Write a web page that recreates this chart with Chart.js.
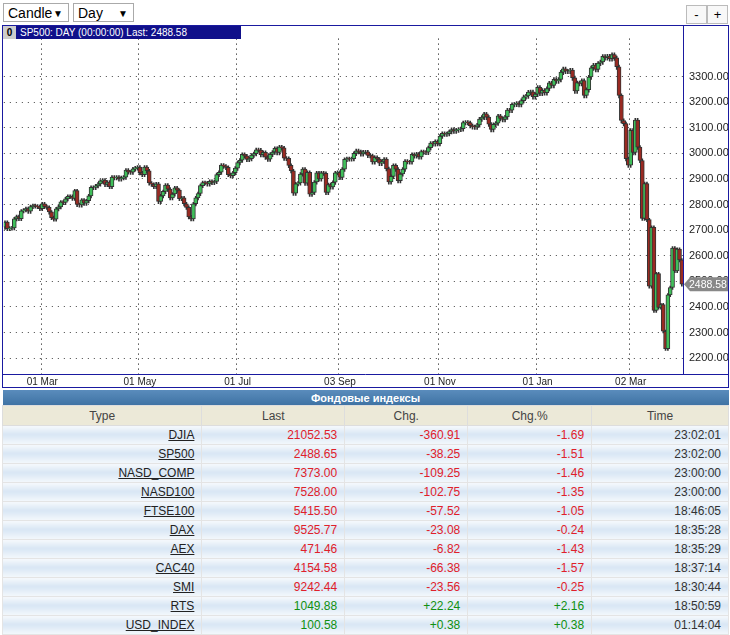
<!DOCTYPE html>
<html><head><meta charset="utf-8">
<script src="https://cdn.jsdelivr.net/npm/chart.js@4/dist/chart.umd.min.js"></script>
<style>
body{margin:0;font-family:"Liberation Sans",Arial,sans-serif;background:#fff;width:730px;height:635px;overflow:hidden;position:relative}
.sel{position:absolute;top:3px;height:19px;border:1px solid #aaa;font-size:14px;line-height:19px;padding-left:4px;box-sizing:border-box;background:#fff}
.sel span{position:absolute;right:5px;font-size:10px}
.btn{position:absolute;top:5px;width:21px;height:19px;border:1px solid #bbb;box-sizing:border-box;text-align:center;font-size:13px;line-height:17px;background:#f8f8f8}
#box{position:absolute;left:2px;top:25px;width:727px;height:363px;border:1px solid #1a1aa0;box-sizing:border-box}
#cv{position:absolute;left:3px;top:26px}
#ttl{position:absolute;left:3px;top:26px;height:13px;width:238px;background:#10108a;color:#fff;font-size:10px;line-height:13px}
#ttl b{display:inline-block;width:13px;background:#ccc;color:#000;text-align:center;margin-right:4px}
table{position:absolute;left:2px;top:390px;width:727px;border-collapse:collapse;font-size:12px}
th.cap{background:linear-gradient(#5a8cbc,#3f73a4);color:#fff;font-size:11px;height:15px;padding:0}
th.h{background:#ece9d8;color:#444;font-weight:normal;height:19px;border:1px solid #ddd;padding:0;font-size:12px}
td{height:18px;padding:0 7px;text-align:right;border:1px solid #e4e4e4;background:linear-gradient(#f4f8fc,#d8e6f4 45%,#f4f8fc);color:#333}
td.t{text-decoration:underline;color:#222}
.r{color:#e0202a}.g{color:#109010}
</style></head><body>
<div class="sel" style="left:3px;width:66px">Candle<span>▼</span></div>
<div class="sel" style="left:73px;width:61px">Day<span>▼</span></div>
<div class="btn" style="left:686px">-</div><div class="btn" style="left:707px">+</div>
<div id="box"></div>
<canvas id="cv" width="725" height="361" style="width:725px;height:361px"></canvas>
<div id="ttl"><b>0</b>SP500: DAY (00:00:00) Last: 2488.58</div>
<table id="tb"></table>
<script>
const closes=[2731,2706,2708,2709,2744,2753,2745,2775,2779,2784,2774,2792,2796,2794,2792,2784,
2803,2792,2789,2771,2749,2743,2783,2791,2810,2808,2822,2832,2832,2824,2854,2800,2798,2818,2805,2815,2834,
2867,2867,2873,2880,2892,2895,2878,2888,2870,2907,2905,2907,2900,2905,2907,2934,2927,2926,2939,2943,2946,
2924,2917,2946,2932,2884,2879,2870,2881,2812,2834,2851,2876,2860,2826,2841,2865,2856,2823,2826,2803,2789,2752,
2744,2803,2826,2843,2874,2886,2885,2880,2891,2886,2890,2917,2926,2954,2950,2945,2917,2913,2924,2942,
2964,2973,2996,2990,2976,2979,2993,2999,3014,3013,2995,3004,2985,2977,2996,3005,3019,3003,3025,3021,2981,2980,
2953,2932,2844,2881,2884,2919,2938,2883,2926,2840,2847,2888,2924,2900,2924,2922,2847,2878,2869,2887,2924,2926,
2906,2938,2976,2979,2978,2979,3000,3010,3007,2998,3006,3006,2992,2991,2966,2984,2977,2961,2968,2977,
2940,2888,2910,2953,2938,2893,2919,2938,2970,2967,2966,2996,2990,2998,2986,3007,3005,3004,3022,3040,3037,3047,3038,
3067,3078,3075,3077,3085,3093,3087,3091,3094,3096,3120,3122,3120,3108,3104,3103,3111,3134,3141,3154,3141,
3114,3093,3113,3118,3146,3136,3132,3142,3169,3168,3191,3192,3196,3191,3206,3221,3224,3239,3240,3221,3231,
3258,3235,3246,3237,3253,3275,3265,3289,3283,3289,3317,3330,3321,3321,3325,3295,3244,3276,3273,3284,3226,
3249,3298,3334,3345,3328,3352,3357,3379,3374,3380,3370,3386,3373,3338,3226,3128,3116,2979,2954,
3090,3003,3130,3024,2972,2746,2882,2741,2481,2711,2386,2530,2398,2409,2305,2237,2447,2476,2630,2541,2626,2584,
2488.58];
const monthTicks={16:'01 Mar',58:'01 May',100:'01 Jul',144:'03 Sep',187:'01 Nov',229:'01 Jan',269:'02 Mar'};
const priceTicks=[2200,2300,2400,2500,2600,2700,2800,2900,3000,3100,3200,3300];
const lastPrice=2488.58;
const rows=[['DJIA','21052.53','-360.91','-1.69','23:02:01'],['SP500','2488.65','-38.25','-1.51','23:02:00'],
['NASD_COMP','7373.00','-109.25','-1.46','23:00:00'],['NASD100','7528.00','-102.75','-1.35','23:00:00'],
['FTSE100','5415.50','-57.52','-1.05','18:46:05'],['DAX','9525.77','-23.08','-0.24','18:35:28'],
['AEX','471.46','-6.82','-1.43','18:35:29'],['CAC40','4154.58','-66.38','-1.57','18:37:14'],
['SMI','9242.44','-23.56','-0.25','18:30:44'],['RTS','1049.88','+22.24','+2.16','18:50:59'],
['USD_INDEX','100.58','+0.38','+0.38','01:14:04']];
const headers=['Type','Last','Chg.','Chg.%','Time'];

let h='<tr><th class="cap" colspan="5">Фондовые индексы</th></tr><tr>';
const w=[200,143,123,124,137];
headers.forEach((x,i)=>h+=`<th class="h" style="width:${w[i]}px">${x}</th>`);
h+='</tr>';
rows.forEach(r=>{const c=r[2][0]=='-'?'r':'g';h+=`<tr><td class="t">${r[0]}</td><td class="${c}">${r[1]}</td><td class="${c}">${r[2]}</td><td class="${c}">${r[3]}</td><td>${r[4]}</td></tr>`;});
document.getElementById('tb').innerHTML=h;

const labels=closes.map((_,i)=>i);
const opens=closes.map((c,i)=>i?closes[i-1]:c-20);
const bodies=closes.map((c,i)=>[opens[i],c]);
const wick=closes.map((c,i)=>{const hi=Math.max(c,opens[i]),lo=Math.min(c,opens[i]);return [lo*0.997,hi*1.002];});
const up=closes.map((c,i)=>c>=opens[i]);

const lastLbl={id:'lastLbl',afterDraw(ch){const c=ch.ctx,y=ch.scales.y.getPixelForValue(lastPrice),x=ch.chartArea.right+1;
c.save();c.fillStyle='#888';c.beginPath();c.moveTo(x,y);c.lineTo(x+6,y-7);c.lineTo(x+44,y-7);c.lineTo(x+44,y+7);c.lineTo(x+6,y+7);c.closePath();c.fill();
c.fillStyle='#fff';c.font='10.5px "Liberation Sans",Arial';c.textBaseline='middle';c.fillText(lastPrice.toFixed(2),x+5,y+1);
c.strokeStyle='#1a1aa0';c.lineWidth=1;c.beginPath();c.moveTo(ch.chartArea.right+0.5,0);c.lineTo(ch.chartArea.right+0.5,ch.chartArea.bottom+0.5);
c.moveTo(0,ch.chartArea.bottom+0.5);c.lineTo(ch.width,ch.chartArea.bottom+0.5);c.stroke();c.restore();}};

new Chart(document.getElementById('cv'),{type:'bar',
data:{labels,datasets:[
{data:wick,backgroundColor:'#333',barThickness:1,grouped:false,order:2},
{data:bodies,backgroundColor:up.map(u=>u?'#3fbf5a':'#9a2a22'),borderColor:'#333',borderWidth:1,borderSkipped:false,barThickness:4,grouped:false,order:1}]},
options:{responsive:false,animation:false,events:[],
layout:{padding:0},
plugins:{legend:{display:false},tooltip:{enabled:false}},
scales:{
x:{offset:true,grid:{display:true,drawTicks:false,color:c=>monthTicks[c.tick&&c.tick.value]!==undefined?'#000':'transparent',lineWidth:1},
border:{display:false,dash:[1,4]},
ticks:{autoSkip:false,maxRotation:0,padding:2,color:'#222',font:{size:10,family:'"Liberation Sans",Arial'},callback:v=>monthTicks[v]||''},afterFit:s=>{s.height=13;}},
y:{position:'right',min:2138,max:3448,afterBuildTicks:a=>{a.ticks=priceTicks.map(v=>({value:v}));},
grid:{color:'#444',drawTicks:false},border:{display:false,dash:[1,5]},
ticks:{padding:6,color:'#222',font:{size:11,family:'"Liberation Sans",Arial'},callback:v=>v.toFixed(2)},afterFit:s=>{s.width=45;}}
}},plugins:[lastLbl]});
</script></body></html>
